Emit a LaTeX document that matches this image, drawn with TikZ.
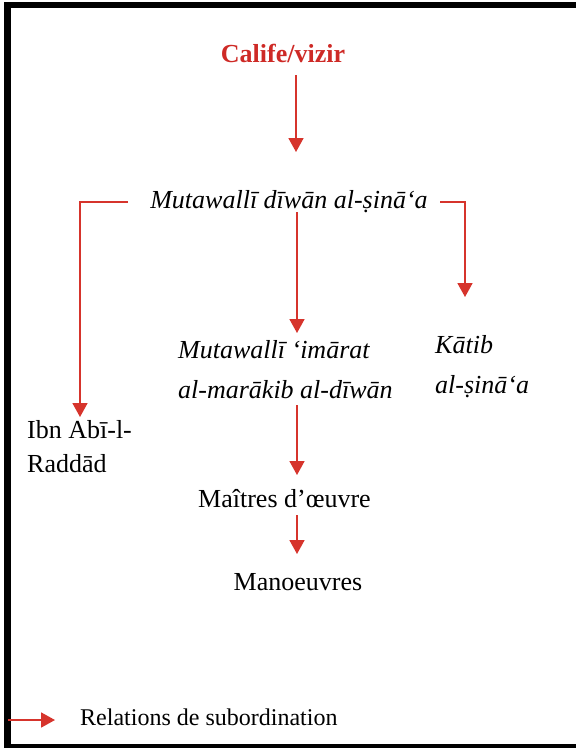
\documentclass[tikz,border=0pt]{standalone}
\usepackage{fontspec}
\setmainfont{Liberation Serif}
\usetikzlibrary{arrows.meta}
\definecolor{linkred}{RGB}{214,52,44}
\definecolor{headred}{RGB}{206,42,38}
\begin{document}
\begin{tikzpicture}[x=1pt,y=-1pt,
  link/.style={draw=linkred,line width=1.8pt},
  arr/.style={link,-{Triangle[width=15pt,length=14pt]}},
  lbl/.style={inner sep=0pt,font=\fontsize{26}{40}\selectfont},
  ilbl/.style={lbl,font=\fontsize{26}{40}\selectfont\itshape},
]
\useasboundingbox (0,0) rectangle (576,748);
% page frame
\fill[black] (4,2) rectangle (11,748);
\fill[black] (4,2) rectangle (576,8);
\fill[black] (4,744) rectangle (576,748);

% labels (multi-line nodes are placed by their last baseline)
\node[lbl,anchor=base,text=headred,font=\fontsize{26}{30}\selectfont\bfseries] (calife) at (283,62) {Calife/vizir};
\node[ilbl,anchor=base] (mut) at (289,208) {Mutawallī dīwān al-ṣinā‘a};
\node[ilbl,anchor=base west,align=left] (imara) at (178,398) {Mutawallī ‘imārat\\al-marākib al-dīwān};
\node[ilbl,anchor=base west,align=left] (katib) at (435,393) {Kātib\\al-ṣinā‘a};
\node[lbl,anchor=base west,align=left,font=\fontsize{26}{34}\selectfont] (ibn) at (27,472) {Ibn Abī-l-\\Raddād};
\node[lbl,anchor=base] (maitres) at (284.5,507) {Maîtres d’œuvre};
\node[lbl,anchor=base] (manoeuv) at (298,590) {Manoeuvres};
\node[lbl,anchor=base west,font=\fontsize{24}{28}\selectfont] (legend) at (80,725) {Relations de subordination};

% connector end points
\coordinate (c1s) at (296,75);
\coordinate (c1e) at (296,152);
\coordinate (ls) at (128,202);
\coordinate (lc) at (80,202);
\coordinate (le) at (80,417);
\coordinate (rs) at (440,202);
\coordinate (rc) at (465,202);
\coordinate (re) at (465,297);
\coordinate (ms) at (297,212);
\coordinate (me) at (297,333);
\coordinate (ws) at (297,405);
\coordinate (we) at (297,475);
\coordinate (ns) at (297,515);
\coordinate (ne) at (297,554);
\coordinate (gs) at (8,720);
\coordinate (ge) at (55,720);

% subordination arrows
\draw[arr] (c1s) -- (c1e);
\draw[arr] (ls) -- (lc) -- (le);
\draw[arr] (rs) -- (rc) -- (re);
\draw[arr] (ms) -- (me);
\draw[arr] (ws) -- (we);
\draw[arr] (ns) -- (ne);
\draw[arr] (gs) -- (ge);
\end{tikzpicture}
\end{document}
